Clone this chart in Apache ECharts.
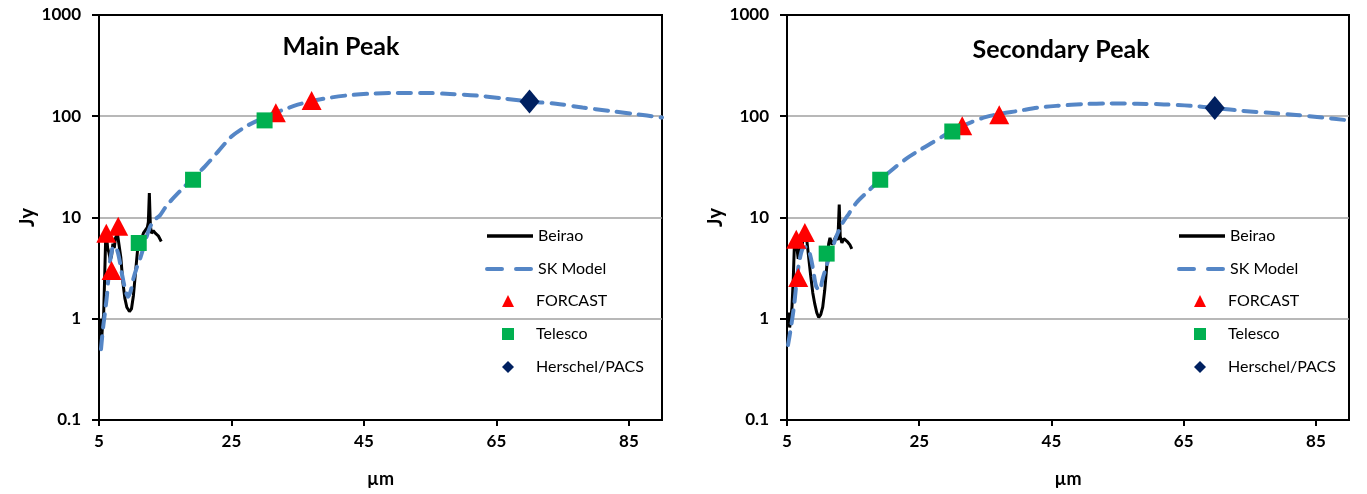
<!DOCTYPE html>
<html>
<head>
<meta charset="utf-8">
<script src="https://cdn.jsdelivr.net/npm/echarts@6/dist/echarts.min.js"></script>
<style>
html,body{margin:0;padding:0;background:#fff;}
#chart{width:1367px;height:494px;}
</style>
</head>
<body>
<div id="chart"></div>
<script>
// ---------- DATA ----------
const panelTitles = ['Main Peak', 'Secondary Peak'];
const lineNames = ['Beirao', 'SK Model'];
const markerNames = ['FORCAST', 'Telesco', 'Herschel/PACS'];
const xTicks = [5, 25, 45, 65, 85];
const yTicks = [0.1, 1, 10, 100, 1000];

// Main Peak
const mainBeirao = [[5.1,0.75],[5.25,1.0],[5.4,0.62],[5.55,0.9],[5.7,1.1],[5.85,2.5],[6.0,6.0],[6.15,6.6],[6.3,5.0],[6.5,4.5],[6.7,3.8],[6.9,4.2],[7.1,5.5],[7.3,5.0],[7.5,6.3],[7.8,6.8],[8.0,6.5],[8.3,4.0],[8.6,2.3],[8.9,1.6],[9.2,1.3],[9.6,1.18],[9.9,1.25],[10.2,1.7],[10.5,2.8],[10.8,4.6],[11.1,6.3],[11.4,6.0],[11.7,7.0],[12.0,7.2],[12.3,8.0],[12.45,9.0],[12.6,17.4],[12.75,8.5],[12.9,7.0],[13.2,7.4],[13.5,7.0],[13.7,7.3],[13.95,6.6],[14.2,6.8],[14.4,5.8]];
const mainModel = [[5.3,0.5],[5.6,0.8],[5.9,1.15],[6.2,1.7],[6.5,2.9],[6.8,4.2],[7.2,5.2],[7.6,5.0],[8.0,4.1],[8.5,2.7],[9.0,1.9],[9.4,1.65],[9.8,1.9],[10.2,2.5],[10.7,3.2],[11.2,3.9],[11.7,5.0],[12.2,6.5],[12.8,8.3],[13.5,9.6],[14.2,10.5],[15.0,12.5],[16.0,15],[17.5,19],[19.2,24.5],[21,32],[23,45],[25,63],[27,78],[29,91],[31,104],[33,117],[35,130],[37,141],[40,153],[43,162],[46,167],[50,170],[54,170],[58,166],[62,160],[66,150],[70,140],[74,133],[78,122],[82,113],[86,105],[90,97]];
const mainForcast = [[6.1,7.0],[7.9,8.2],[6.9,3.0],[31.7,108],[37.1,143]];
const mainTelesco = [[11.0,5.6],[19.2,23.6],[30.0,91]];
const mainHerschel = [[70,140]];

// Secondary Peak
const secBeirao = [[5.1,0.9],[5.25,1.15],[5.4,0.82],[5.55,0.95],[5.75,1.3],[5.95,2.5],[6.1,5.0],[6.3,5.6],[6.5,5.0],[6.7,3.9],[6.9,4.3],[7.1,5.8],[7.3,5.2],[7.5,7.0],[7.7,7.6],[7.9,6.8],[8.2,4.5],[8.6,2.6],[8.9,1.8],[9.2,1.4],[9.5,1.15],[9.8,1.03],[10.1,1.1],[10.4,1.3],[10.7,1.9],[11.0,3.2],[11.3,5.5],[11.5,6.3],[11.8,5.4],[12.1,5.9],[12.4,6.5],[12.7,6.0],[12.9,13.4],[13.05,6.5],[13.3,5.6],[13.6,6.2],[13.9,6.0],[14.2,5.7],[14.5,5.4],[14.8,4.9]];
const secModel = [[5.15,0.55],[5.6,0.82],[6.1,1.4],[6.5,2.5],[6.9,3.8],[7.4,5.0],[7.9,5.1],[8.4,4.5],[8.9,3.2],[9.4,2.1],[9.9,1.9],[10.4,2.5],[10.9,3.2],[11.4,4.1],[12.0,5.3],[12.5,6.6],[13.4,8.8],[14.4,11],[15.5,14],[17,17.5],[19.1,23.6],[21,30],[23,38],[25,46],[27,55],[29,66],[31,77],[33,88],[35,98],[37,105],[40,113],[43,122],[46,127],[50,132],[54,134],[58,133],[62,131],[66,127],[70,120],[74,113],[78,108],[82,103],[86,97],[90,91]];
const secForcast = [[6.4,6.1],[7.7,7.1],[6.7,2.56],[31.5,80.5],[37.1,103.5]];
const secTelesco = [[11.0,4.4],[19.1,23.6],[30.0,70.7]];
const secHerschel = [[69.7,120.5]];

const panels = [
  {beirao: mainBeirao, model: mainModel, forcast: mainForcast, telesco: mainTelesco, herschel: mainHerschel},
  {beirao: secBeirao, model: secModel, forcast: secForcast, telesco: secTelesco, herschel: secHerschel}
];

// ---------- LAYOUT / STYLE ----------
const FONT = 'Lato';
const MODEL_COLOR = '#5586c6';
const grids = [
  {left: 99, right: 705, top: 15, bottom: 74},
  {left: 787, right: 18, top: 15, bottom: 74}
];
const titlePos = [{x: 336, y: 29}, {x: 1056, y: 32}];
const lineLegendLeft = [485, 1177];
const LEGEND_TOP = 228;
const ROW = 32.5;

const chart = echarts.init(document.getElementById('chart'), null, {renderer: 'canvas'});

const legendText = {fontFamily: FONT, fontSize: 16, color: '#000'};
const legends = [];
lineLegendLeft.forEach(l => {
  legends.push({
    left: l, top: LEGEND_TOP, orient: 'vertical', padding: 0,
    itemWidth: 46, itemHeight: 12, itemGap: ROW - 15.5, selectedMode: false,
    data: [
      {name: lineNames[0], itemStyle: {opacity: 0}, lineStyle: {width: 3.5, color: '#000'}},
      {name: lineNames[1], itemStyle: {opacity: 0}, lineStyle: {width: 4, color: MODEL_COLOR, type: [15, 14]}}
    ],
    textStyle: legendText
  });
  legends.push({
    left: l + 17, top: LEGEND_TOP + 2 * ROW, orient: 'vertical', padding: 0,
    itemWidth: 12, itemHeight: 12, itemGap: ROW - 15.5, selectedMode: false,
    data: markerNames,
    textStyle: Object.assign({padding: [0, 0, 0, 17]}, legendText)
  });
});

const option = {
  backgroundColor: '#fff',
  animation: false,
  title: panelTitles.map((t, i) => ({
    text: t, left: titlePos[i].x, top: titlePos[i].y, textAlign: 'center',
    textStyle: {fontFamily: FONT, fontWeight: 'bold', fontSize: 25, color: '#000'}
  })),
  legend: legends,
  grid: grids.map(g => Object.assign({show: true, borderColor: '#000', borderWidth: 2, backgroundColor: 'transparent'}, g)),
  xAxis: grids.map((g, i) => ({
    type: 'value', gridIndex: i, min: xTicks[0], max: 90, interval: xTicks[1] - xTicks[0],
    name: 'µm', nameLocation: 'middle', nameGap: 50,
    nameTextStyle: {fontFamily: FONT, fontWeight: 'bold', fontSize: 18, color: '#000'},
    axisLine: {show: true, onZero: false, lineStyle: {color: '#000', width: 2}},
    axisTick: {show: true, inside: false, length: 6, lineStyle: {color: '#000', width: 2}},
    axisLabel: {showMaxLabel: false, margin: 13, fontFamily: FONT, fontWeight: 'bold', fontSize: 17, color: '#000',
      formatter: v => (xTicks.indexOf(v) >= 0 ? String(v) : '')},
    splitLine: {show: false}
  })),
  yAxis: grids.map((g, i) => ({
    type: 'log', logBase: 10, gridIndex: i, min: yTicks[0], max: yTicks[yTicks.length - 1],
    name: 'Jy', nameLocation: 'middle', nameGap: 58, nameRotate: 90,
    nameTextStyle: {fontFamily: FONT, fontWeight: 'bold', fontSize: 20, color: '#000'},
    axisLine: {show: true, lineStyle: {color: '#000', width: 2}},
    axisTick: {show: true, inside: false, length: 7, lineStyle: {color: '#000', width: 2}},
    axisLabel: {margin: 18, fontFamily: FONT, fontWeight: 'bold', fontSize: 17, color: '#000',
      formatter: v => { const r = yTicks.find(t => Math.abs(t - v) / t < 1e-6); return r === undefined ? '' : String(r); }},
    splitLine: {show: true, showMinLine: false, showMaxLine: false, lineStyle: {color: '#a0a0a0', width: 1.5}}
  })),
  series: []
};

panels.forEach((p, i) => {
  option.series.push(
    {name: 'Beirao', type: 'line', xAxisIndex: i, yAxisIndex: i, data: p.beirao, symbol: 'none',
      lineStyle: {color: '#000', width: 3}, itemStyle: {color: '#000'}, z: 2},
    {name: 'SK Model', type: 'line', xAxisIndex: i, yAxisIndex: i, data: p.model, symbol: 'none', smooth: 0.3,
      lineStyle: {color: MODEL_COLOR, width: 4, type: [13, 9], cap: 'round'}, itemStyle: {color: MODEL_COLOR}, z: 3},
    {name: 'FORCAST', type: 'scatter', xAxisIndex: i, yAxisIndex: i, data: p.forcast, symbol: 'triangle', symbolSize: [20, 19],
      itemStyle: {color: '#ff0000', opacity: 1}, z: 4},
    {name: 'Telesco', type: 'scatter', xAxisIndex: i, yAxisIndex: i, data: p.telesco, symbol: 'rect', symbolSize: 16,
      itemStyle: {color: '#00b050', opacity: 1}, z: 5},
    {name: 'Herschel/PACS', type: 'scatter', xAxisIndex: i, yAxisIndex: i, data: p.herschel, symbol: 'diamond', symbolSize: [20, 24],
      itemStyle: {color: '#002060', opacity: 1}, z: 5}
  );
});

chart.setOption(option);
</script>
</body>
</html>
